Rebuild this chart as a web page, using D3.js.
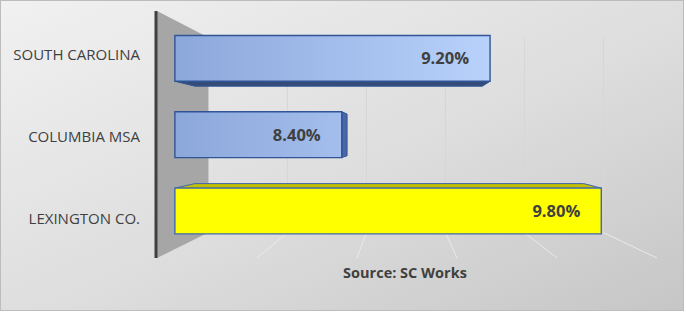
<!DOCTYPE html>
<html>
<head>
<meta charset="utf-8">
<script src="https://cdn.jsdelivr.net/npm/d3@7"></script>
<style>
  html, body { margin: 0; padding: 0; background: #ffffff; }
  svg { display: block; }
  .cat { font-family: "Open Sans", sans-serif; font-size: 15px; fill: #404040; }
  .val { font-family: "Open Sans", sans-serif; font-size: 16.5px; font-weight: bold; fill: #404040; }
  .note { font-family: "Open Sans", sans-serif; font-size: 14.5px; font-weight: bold; fill: #404040; }
</style>
</head>
<body>
<svg id="chart"></svg>
<script>
// data
const categories = ["SOUTH CAROLINA", "COLUMBIA MSA", "LEXINGTON CO."];
const rates = [0.092, 0.084, 0.098];
const axisRange = [0.075, 0.10];
const highlighted = "LEXINGTON CO.";
const sourceNote = "Source: SC Works";

const svgWidth = 686, svgHeight = 317;
const chartW = 683, chartH = 310;

// 3d box: front plane maps 1:1, deeper planes shrink toward vanishing point
const vp = {x: 402, y: 137};
const wallFront = 1, wallBack = 0.79;
const barFront = 0.927, barBack = 0.845;
function proj(x, y, f) { return [vp.x + f*(x - vp.x), vp.y + f*(y - vp.y)]; }

const xScale = d3.scaleLinear().domain(axisRange).range([157, 657]);
const yScale = d3.scaleBand().domain(categories).range([11, 258])
  .paddingInner(0.4).paddingOuter(0.2);
const pct = d3.format(".2%");

const svg = d3.select("#chart").attr("width", svgWidth).attr("height", svgHeight);
const defs = svg.append("defs");

const bg = defs.append("linearGradient").attr("id", "bg")
  .attr("x1", 0).attr("y1", 0).attr("x2", 1).attr("y2", 1);
bg.append("stop").attr("offset", "0%").attr("stop-color", "#f1f1f1");
bg.append("stop").attr("offset", "55%").attr("stop-color", "#dddddd");
bg.append("stop").attr("offset", "100%").attr("stop-color", "#c6c6c6");

const blue = defs.append("linearGradient").attr("id", "blueFill")
  .attr("gradientUnits", "userSpaceOnUse")
  .attr("x1", 175).attr("y1", 0).attr("x2", 490).attr("y2", 0);
blue.append("stop").attr("offset", "0%").attr("stop-color", "#8ca7da");
blue.append("stop").attr("offset", "100%").attr("stop-color", "#b8d2fc");

svg.append("rect")
  .attr("x", 0.5).attr("y", 0.5)
  .attr("width", chartW).attr("height", chartH)
  .style("fill", "url(#bg)")
  .style("stroke", "#bcbcbc");

const plot = svg.append("g");
const line = d3.line();

// side wall
const y0 = yScale.range()[0], y1 = yScale.range()[1];
const xMin = xScale.range()[0];
plot.append("path")
  .attr("d", line([proj(xMin, y0, wallFront), proj(xMin, y0, wallBack),
                   proj(xMin, y1, wallBack), proj(xMin, y1, wallFront)]) + "Z")
  .style("fill", "#a6a6a6");

// gridlines on back wall + floor
const ticks = xScale.ticks(5).slice(1);
plot.selectAll(".grid").data(ticks).enter().append("path")
  .attr("d", d => line([proj(xScale(d), y0, wallBack), proj(xScale(d), y1, wallBack)]))
  .style("stroke", "#d6d6d6").style("stroke-width", 1).style("fill", "none");
plot.selectAll(".floor").data(ticks).enter().append("path")
  .attr("d", d => line([proj(xScale(d), y1, wallBack), proj(xScale(d), y1, wallFront)]))
  .style("stroke", "#eaeaea").style("stroke-width", 1).style("fill", "none");

// axis line
plot.append("line")
  .attr("x1", 156).attr("x2", 156).attr("y1", y0).attr("y2", y1)
  .style("stroke", "#404040").style("stroke-width", 3);

// bars
const bars = categories.map((c, i) => ({name: c, value: rates[i]}));
bars.forEach(d => {
  const hi = d.name === highlighted;
  const bx0 = xScale(axisRange[0]), bx1 = xScale(d.value);
  const by0 = yScale(d.name), by1 = by0 + yScale.bandwidth();
  const g = plot.append("g");
  const stroke = hi ? "#4068b0" : "#2f5597";
  const faces = [];
  if (by0 > vp.y) faces.push({pts: [[bx0,by0],[bx1,by0]], fill: hi ? "#c2be00" : "#5a78b8"});
  if (by1 < vp.y) faces.push({pts: [[bx0,by1],[bx1,by1]], fill: hi ? "#8a8600" : "#364c78"});
  if (bx1 < vp.x) faces.push({pts: [[bx1,by0],[bx1,by1]], fill: hi ? "#a8a400" : "#4a66a6"});
  faces.forEach(fc => {
    const a = fc.pts[0], b = fc.pts[1];
    g.append("path")
      .attr("d", line([proj(a[0],a[1],barFront), proj(b[0],b[1],barFront),
                       proj(b[0],b[1],barBack), proj(a[0],a[1],barBack)]) + "Z")
      .style("fill", fc.fill).style("stroke", stroke).style("stroke-width", 1)
      .style("stroke-linejoin", "round");
  });
  g.append("path")
    .attr("d", line([proj(bx0,by0,barFront), proj(bx1,by0,barFront),
                     proj(bx1,by1,barFront), proj(bx0,by1,barFront)]) + "Z")
    .style("fill", hi ? "#ffff00" : "url(#blueFill)")
    .style("stroke", stroke).style("stroke-width", 1.4);

  const end = proj(bx1, (by0 + by1) / 2, barFront);
  g.append("text")
    .attr("class", "val")
    .attr("x", end[0] - 21).attr("y", end[1])
    .attr("dy", "0.36em")
    .attr("text-anchor", "end")
    .text(pct(d.value));
});

// category labels
plot.selectAll(".cat").data(categories).enter().append("text")
  .attr("class", "cat")
  .attr("x", 140)
  .attr("y", d => yScale(d) + yScale.bandwidth() / 2 + 2)
  .attr("dy", "0.36em")
  .attr("text-anchor", "end")
  .text(d => d);

svg.append("text")
  .attr("class", "note")
  .attr("x", 405).attr("y", 273)
  .attr("dy", "0.36em")
  .attr("text-anchor", "middle")
  .text(sourceNote);
</script>
</body>
</html>
